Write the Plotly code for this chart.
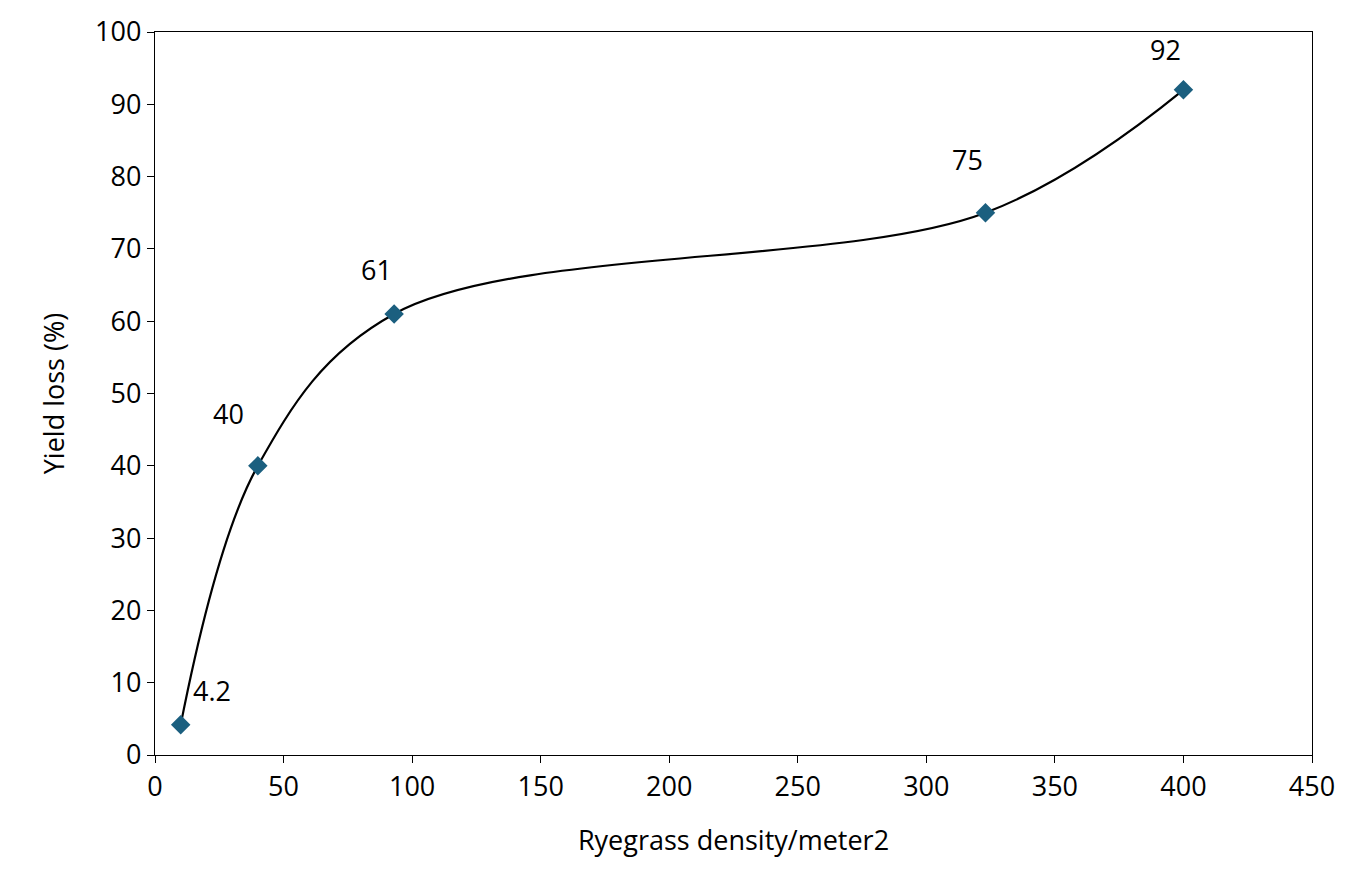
import plotly.graph_objects as go

# ryegrass density vs yield loss
density = [10, 40, 93, 323, 400]
yield_loss = [4.2, 40, 61, 75, 92]
labels = ["4.2", "40", "61", "75", "92"]

# label offsets (px) from each point
label_dx = [31, -29, -18, -18, -18]
label_dy = [34, 52, 44, 53, 40]

fig = go.Figure()
fig.add_trace(go.Scatter(
    x=density,
    y=yield_loss,
    mode='lines+markers',
    line=dict(color='black', width=2.2, shape='spline', smoothing=1),
    marker=dict(symbol='diamond', size=15, color='#1b5f7f'),
    showlegend=False,
    hoverinfo='x+y',
    cliponaxis=False
))

for x, y, t, dx, dy in zip(density, yield_loss, labels, label_dx, label_dy):
    fig.add_annotation(x=x, y=y, text=t, showarrow=False,
                       xshift=dx, yshift=dy,
                       font=dict(size=27, color='black'))

axis_style = dict(
    showline=True, linecolor='black', linewidth=1.3, mirror=True,
    ticks='outside', ticklen=7, tickcolor='black',
    showgrid=False, zeroline=False,
    tickfont=dict(size=27, color='black'),
)

fig.update_layout(
    width=1350, height=874,
    margin=dict(l=147, r=46, t=24, b=127),
    plot_bgcolor='white', paper_bgcolor='white',
    font=dict(family='Open Sans, Arial, sans-serif', color='black'),
    xaxis=dict(range=[0, 450], dtick=50, automargin='bottom',
               title=dict(text='Ryegrass density/meter2', font=dict(size=27), standoff=28),
               **axis_style),
    yaxis=dict(range=[0, 100], dtick=10, automargin='left',
               title=dict(text='Yield loss (%)', font=dict(size=27), standoff=22),
               **axis_style),
)

fig.write_html("out.html")
